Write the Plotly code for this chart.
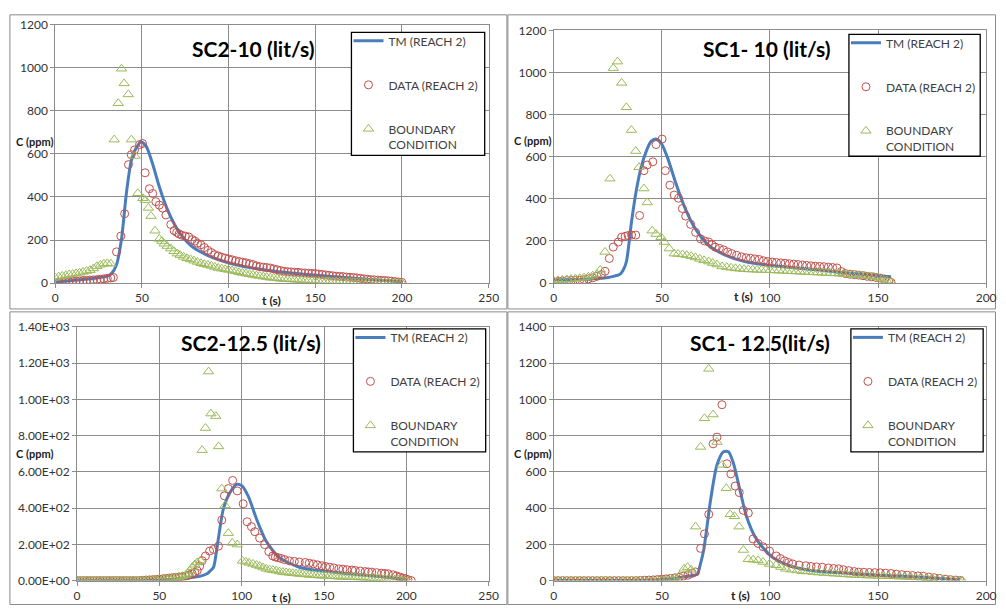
import plotly.graph_objects as go

W, H = 1006, 612
FONT = "Lato"
BLUE = "#4A7EBB"
RED = "#C0504D"
GREEN = "#9BBB59"
GRID = "#8C8C8C"

# ---------------- Panel 1: SC2-10 ----------------
p1_tm_t = [0, 10, 20, 30, 32.5, 35.3, 38.2, 41, 43.8, 46.7, 49.5, 52.4, 56.2, 60, 64.7, 70.4, 78, 87.5,
           100.8, 112, 125.5, 140, 150, 165, 180, 190, 200]
p1_tm_c = [5, 12, 20, 32, 45, 85, 205, 417, 567, 628, 655, 636, 552, 447, 341, 250, 175, 130,
           92, 72, 56, 43, 36, 27, 18, 12, 6]
p1_data_t = [0, 2, 4, 6, 8, 10, 12, 14, 16, 18, 20, 22, 24, 26, 28, 30, 32, 33.5, 35.3, 37.8, 40, 42.2, 43.8,
             45.7, 48.6, 50.3, 51.8, 54.3, 56.2, 58, 60, 61.9, 63.8, 66.6, 68.5, 70, 71.4, 73, 75, 77, 79,
             80.5, 82, 84, 86, 88, 90, 92, 94, 96, 98, 100, 102, 104, 106, 108, 110, 112, 114, 116, 118,
             120, 122, 124, 126, 128, 130, 132, 134, 136, 138, 140, 142, 144, 146, 148, 150, 152, 154, 156,
             158, 160, 162, 164, 166, 168, 170, 172, 174, 176, 178, 180, 182, 184, 186, 188, 190, 192, 194,
             196, 198, 200]
p1_data_c = [2, 3, 4, 5, 6, 8, 9, 10, 12, 13, 14, 15, 16, 18, 20, 22, 24, 26, 145, 218, 322, 550, 596,
             618, 643, 648, 512, 438, 416, 378, 362, 348, 316, 272, 244, 235, 228, 222, 218, 214, 202,
             195, 185, 178, 165, 152, 142, 132, 126, 120, 116, 112, 108, 104, 100, 97, 94, 90, 86, 80, 76,
             74, 72, 70, 66, 62, 58, 55, 53, 52, 50, 50, 48, 47, 46, 45, 44, 42, 40, 38,
             36, 34, 32, 31, 30, 28, 27, 26, 24, 22, 20, 18, 16, 15, 14, 13, 12, 11, 9,
             7, 5, 3]
p1_bc_t = [0, 2, 4, 6, 8, 10, 12, 14, 16, 18, 20, 22, 24, 26, 28, 30, 32, 34, 36.3, 38.2, 39.7, 42.1,
           43.9, 46, 47.6, 50.5, 52, 53.7, 55.2, 57.5, 60, 61.5, 62.8, 64.5, 66.6, 68.5, 70.4, 72, 74, 76,
           78, 80, 82, 84, 86, 88, 90, 92, 94, 96, 98, 100, 102, 104, 106, 108, 110, 112, 114, 116, 118,
           120, 122, 124, 126, 128, 130, 132, 134, 136, 138, 140, 142, 144, 146, 148, 150, 152, 154, 156,
           158, 160, 162, 164, 166, 168, 170, 172, 174, 176, 178, 180, 182, 184, 186, 188, 190, 192, 194,
           196, 198, 200]
p1_bc_c = [25, 30, 33, 36, 40, 42, 45, 48, 52, 56, 60, 68, 78, 85, 90, 92, 90, 666, 835, 995, 927, 876,
           666, 590, 417, 394, 385, 349, 311, 243, 205, 195, 183, 172, 160, 148, 137, 130, 122, 115,
           110, 104, 98, 92, 88, 84, 80, 75, 70, 67, 64, 61, 58, 55, 50, 47, 44, 41, 38, 35, 33,
           30, 28, 25, 24, 22, 20, 19, 18, 17, 16, 15, 14, 13, 12, 11, 10, 9, 9, 8,
           8, 7, 7, 6, 6, 5, 5, 5, 4, 4, 4, 3, 3, 3, 2, 2, 2, 1, 1,
           1, 0, 0]

# ---------------- Panel 2: SC1-10 ----------------
p2_tm_t = [0, 5, 10, 15, 20, 25, 28, 30.6, 32, 33.6, 35.9, 38.2, 40.4, 42.8, 45, 47.3, 49.6, 52.6, 56.5,
           61, 65.6, 71.7, 79.3, 88.4, 100, 112, 125, 138, 150, 156]
p2_tm_c = [15, 16, 17, 18, 22, 27, 33, 42, 60, 102, 287, 442, 550, 627, 673, 684, 666, 596, 473,
           349, 256, 179, 133, 102, 84, 72, 60, 45, 35, 30]
p2_data_t = [0, 2, 4, 6, 8, 10, 12, 14, 16, 18, 20, 22, 23.7, 25.7, 27.5, 29.8, 31.4, 33, 34.4, 36, 37.9,
             39.7, 41.7, 43.2, 45.8, 47.3, 50.1, 51.6, 53.7, 55.7, 57.7, 59.5, 61, 63.3, 65.6, 67.9, 69.8,
             71.7, 73.2, 74.7, 76.6, 78.5, 80.4, 82.3, 84.6, 86.9, 89, 91, 93, 95, 97, 99, 101, 103, 105,
             107, 109, 111, 113, 115, 117, 119, 121, 123, 125, 127, 129, 131, 133, 135, 137, 139, 141, 143,
             145, 147, 149, 151, 153, 155, 156]
p2_data_c = [5, 8, 10, 12, 12, 13, 14, 16, 20, 25, 32, 40, 56, 117, 171, 195, 218, 222, 226, 228, 228,
             321, 534, 561, 576, 658, 684, 534, 465, 418, 403, 354, 318, 279, 241, 210, 200,
             195, 182, 171, 165, 158, 148, 140, 132, 125, 120, 118, 115, 112, 106, 102, 100, 98, 96,
             94, 92, 90, 88, 86, 84, 82, 80, 79, 78, 76, 74, 72, 55, 45, 42, 40, 38, 35,
             32, 30, 27, 24, 18, 8, 3]
p2_bc_t = [0, 2, 4, 6, 8, 10, 12, 14, 16, 18, 20, 21.5, 23.7, 26, 27.5, 29.5, 31.4, 33.6, 35.9, 37.9, 39.4,
           41.7, 43.2, 45.5, 47.3, 49.6, 51.1, 53.4, 55.7, 57.5, 59.5, 61.5, 63.5, 65.5, 67.5, 69.5, 71.7,
           73.5, 75.5, 77.8, 80, 82, 84, 86, 88, 90, 92, 94, 96, 98, 100, 102, 104, 106, 108, 110, 112,
           114, 116, 118, 120, 122, 124, 126, 128, 130, 132, 134, 136, 138, 140, 142, 144, 146, 148, 150,
           152, 154, 156]
p2_bc_c = [10, 13, 15, 17, 19, 21, 23, 26, 30, 35, 42, 63, 148, 496, 1021, 1052, 951, 835, 727, 627, 550,
           449, 383, 249, 233, 218, 195, 164, 140, 138, 136, 133, 128, 122, 115, 108, 102,
           95, 88, 79, 76, 73, 70, 68, 66, 65, 64, 63, 62, 62, 61, 60, 59, 58, 57, 56, 55,
           54, 53, 52, 51, 50, 49, 48, 47, 46, 45, 43, 41, 40, 38, 36, 34, 32, 30, 26,
           20, 12, 5]

# ---------------- Panel 3: SC2-12.5 ----------------
p3_tm_t = [0, 20, 40, 50, 55, 60, 65, 70, 75, 78.9, 80.5, 82.9, 84.5, 85.9, 88.9, 92.9, 96.9, 99.9, 103.9,
           108.9, 114.9, 122.9, 134.9, 145, 155, 165, 175, 188, 200]
p3_tm_c = [0, 0, 1, 3, 5, 8, 12, 18, 25, 38, 50, 74, 150, 235, 397, 486, 531, 525, 468,
           343, 217, 127, 74, 57, 47, 38, 29, 18, 5]
p3_data_t = [0, 2, 4, 6, 8, 10, 12, 14, 16, 18, 20, 22, 24, 26, 28, 30, 32, 34, 36, 38, 40, 42, 44, 46, 48,
             50, 52, 54, 56, 58, 60, 62, 64, 66, 68, 70, 71.5, 73, 74.5, 76, 78, 80.5, 82.9, 85.9, 87.9,
             89.5, 91.9, 94.5, 97.3, 100.9, 103.3, 105.9, 108, 110.9, 113.9, 116.5, 118.9, 120.5, 122, 124,
             126, 129, 132, 135, 138.6, 141, 143.5, 146, 148.8, 151, 153.5, 156, 159, 161.5, 164, 167, 169,
             172, 175, 177, 179, 182, 185, 187, 189, 192, 194, 196, 198, 199.5, 201, 203]
p3_data_c = [0, 0, 0, 0, 0, 0, 0, 0, 0, 0, 0, 0, 0, 0, 0, 0, 0, 0, 0, 0, 2, 3, 4, 5, 6,
             8, 10, 12, 14, 16, 18, 20, 22, 25, 30, 38, 45, 55, 80, 110, 136, 163, 172, 190, 334,
             468, 508, 553, 495, 424, 325, 298, 270, 235, 199, 160, 136, 130, 127, 122,
             116, 109, 106, 103, 100, 96, 92, 87, 82, 78, 74, 70, 65, 63, 60, 58, 56,
             53, 50, 48, 47, 44, 41, 39, 38, 32, 26, 20, 14, 10, 5, 0]
p3_bc_t = [0, 2, 4, 6, 8, 10, 12, 14, 16, 18, 20, 22, 24, 26, 28, 30, 32, 34, 36, 38, 40, 42, 44, 46, 48,
           50, 52, 54, 56, 58, 60, 62, 64, 66, 67, 68.5, 70, 71.5, 73, 75, 76, 78, 79.9, 81.3, 84.3, 86,
           87.9, 89.9, 91.9, 94.3, 97.3, 100.5, 102.5, 104.5, 106.9, 109, 111, 113, 115, 117, 119, 121,
           123, 125, 127, 129, 131, 133, 135, 137, 139, 141, 143, 145, 147, 149, 151, 153, 155, 157, 159,
           161, 163, 165, 167, 169, 171, 173, 175, 177, 179, 181, 183, 185, 187, 189, 191, 193, 195, 197,
           199, 201]
p3_bc_c = [0, 0, 0, 0, 0, 0, 0, 0, 0, 0, 0, 0, 0, 0, 0, 0, 0, 0, 0, 0, 0, 1, 2, 3, 4,
           6, 8, 10, 12, 14, 17, 20, 24, 30, 38, 55, 74, 88, 100, 110, 720, 842, 1154, 922, 908, 741,
           508, 415, 262, 208, 199, 109, 104, 98, 92, 86, 80, 72, 65, 61, 58, 55,
           50, 47, 45, 43, 41, 39, 37, 36, 34, 32, 31, 29, 28, 27, 26, 25, 24, 23, 22,
           21, 20, 20, 19, 18, 17, 16, 15, 14, 13, 12, 11, 10, 9, 8, 7, 6, 5, 3,
           1, 0]

# ---------------- Panel 4: SC1-12.5 ----------------
p4_tm_t = [0, 20, 40, 50, 55, 60, 64, 66.4, 67.8, 69.4, 72.5, 75.5, 78.5, 80.8, 83.1, 86.2, 89.2, 93, 96.8,
           101.4, 109, 119.6, 130, 140, 150, 160, 170, 180, 188]
p4_tm_c = [0, 0, 1, 5, 10, 20, 28, 35, 90, 172, 442, 639, 711, 711, 648, 495, 352, 244, 181,
           127, 82, 55, 45, 38, 30, 25, 18, 10, 5]
p4_data_t = [0, 2, 4, 6, 8, 10, 12, 14, 16, 18, 20, 22, 24, 26, 28, 30, 32, 34, 36, 38, 40, 42, 44, 46, 48,
             50, 52, 54, 56, 58, 60, 62, 64, 65.5, 67.9, 69.7, 71.7, 73.7, 75.5, 77.8, 80.1, 81.9, 83.9,
             85.8, 87.7, 90, 92.2, 94.5, 96.8, 99.8, 102.9, 104.8, 106.7, 108.6, 110.5, 113.5, 116.6, 119,
             121.5, 124.2, 127, 129.5, 131.8, 134, 136.5, 139, 141, 143.5, 146, 148.5, 151, 153.5, 156,
             158.5, 161, 163.5, 166, 168.5, 171, 173.5, 176, 178.5, 181, 183.5, 186, 188]
p4_data_c = [0, 0, 0, 0, 0, 0, 0, 0, 0, 0, 0, 0, 0, 0, 0, 0, 0, 0, 0, 0, 1, 2, 3, 4, 6,
             8, 10, 12, 15, 18, 25, 30, 40, 48, 178, 258, 366, 755, 792, 971, 645, 589, 522,
             486, 388, 373, 230, 205, 187, 163, 136, 122, 109, 100, 92, 86, 82, 78,
             76, 74, 70, 67, 65, 60, 55, 50, 47, 46, 45, 44, 43, 41, 39,
             36, 33, 30, 28, 26, 24, 20, 16, 12, 8, 5, 3, 1]
p4_bc_t = [0, 2, 4, 6, 8, 10, 12, 14, 16, 18, 20, 22, 24, 26, 28, 30, 32, 34, 36, 38, 40, 42, 44, 46, 48,
           50, 52, 54, 56, 58, 60.3, 61.9, 63.5, 65.6, 67.9, 69.7, 71.7, 73.7, 75.5, 77.8, 79.8, 81.6,
           83.6, 85.7, 87.7, 90, 92.2, 94.5, 96.8, 99.8, 102.8, 105, 107.3, 110, 112.5, 115, 117.5, 120,
           122.5, 125, 127.5, 130, 132.5, 135, 137.5, 140, 142.5, 145, 147.5, 150, 152.5, 155, 157.5,
           160, 162.5, 165, 167.5, 170, 172.5, 175, 177.5, 180, 182.5, 185, 187.5, 189]
p4_bc_c = [0, 0, 0, 0, 0, 0, 0, 0, 0, 0, 0, 0, 0, 0, 0, 0, 0, 0, 0, 0, 0, 0, 0, 0, 1,
           3, 6, 10, 15, 25, 65, 74, 60, 298, 738, 896, 1169, 917, 765, 639, 510, 366,
           355, 298, 169, 118, 115, 112, 103, 92, 85, 75, 65, 60, 56, 52, 50, 47,
           44, 42, 40, 38, 36, 34, 32, 30, 29, 28, 27, 26, 25, 24, 23,
           22, 21, 20, 18, 16, 14, 12, 9, 6, 4, 2, 1, 0]

titles = ["SC2-10 (lit/s)", "SC1- 10 (lit/s)", "SC2-12.5 (lit/s)", "SC1- 12.5(lit/s)"]
x_max = [250, 200, 250, 200]
y_max = [1200, 1200, 1400, 1400]
y_tickvals = [[0, 200, 400, 600, 800, 1000, 1200],
              [0, 200, 400, 600, 800, 1000, 1200],
              [0, 200, 400, 600, 800, 1000, 1200, 1400],
              [0, 200, 400, 600, 800, 1000, 1200, 1400]]
y_ticktext = [["0", "200", "400", "600", "800", "1000", "1200"],
              ["0", "200", "400", "600", "800", "1000", "1200"],
              ["0.00E+00", "2.00E+02", "4.00E+02", "6.00E+02", "8.00E+02", "1.00E+03", "1.20E+03", "1.40E+03"],
              ["0", "200", "400", "600", "800", "1000", "1200", "1400"]]
legend_names = ["TM (REACH 2)", "DATA (REACH 2)", "BOUNDARY<br>CONDITION"]

series = [
    (p1_tm_t, p1_tm_c, p1_data_t, p1_data_c, p1_bc_t, p1_bc_c),
    (p2_tm_t, p2_tm_c, p2_data_t, p2_data_c, p2_bc_t, p2_bc_c),
    (p3_tm_t, p3_tm_c, p3_data_t, p3_data_c, p3_bc_t, p3_bc_c),
    (p4_tm_t, p4_tm_c, p4_data_t, p4_data_c, p4_bc_t, p4_bc_c),
]

# layout geometry in pixels
plot_px = [(53, 492, 17, 282), (558, 996, 23, 282), (75, 492, 327, 587), (558, 996, 327, 587)]
panel_px = [(7, 510.5, 7, 308.5), (511.5, 1005.5, 7, 308.5), (7, 510.5, 311.5, 611.5), (511.5, 1005.5, 311.5, 611.5)]
title_px = [(254, 42), (774, 42), (251, 343), (767, 343)]
clabel_px = [(32, 137), (536, 136), (32, 457), (536, 457)]
tlabel_px = [(272, 300), (750, 296), (282, 604), (747, 602)]
legbox_px = [(353, 488, 25, 151), (857, 990, 27, 152), (355, 489, 329, 455), (859, 993, 329, 455)]

def px_x(x):
    return x / W

def px_y(y):
    return 1 - y / H

fig = go.Figure()
layout = dict(
    width=W, height=H, autosize=False,
    margin=dict(l=0, r=0, t=0, b=0),
    paper_bgcolor="white", plot_bgcolor="white",
    font=dict(family=FONT, size=12, color="#404040"),
    shapes=[], annotations=[],
)

for i in range(4):
    tm_t, tm_c, d_t, d_c, b_t, b_c = series[i]
    xa = "x" if i == 0 else f"x{i+1}"
    ya = "y" if i == 0 else f"y{i+1}"
    lg = "legend" if i == 0 else f"legend{i+1}"
    fig.add_trace(go.Scatter(x=tm_t, y=tm_c, mode="lines", name=legend_names[0],
                             line=dict(color=BLUE, width=3, shape="spline", smoothing=0.7),
                             xaxis=xa, yaxis=ya, legend=lg, legendgroup=f"tm{i}"))
    fig.add_trace(go.Scatter(x=d_t, y=d_c, mode="markers", name=legend_names[1],
                             marker=dict(symbol="circle-open", size=8, color=RED, line=dict(width=1)),
                             xaxis=xa, yaxis=ya, legend=lg, legendgroup=f"d{i}"))
    fig.add_trace(go.Scatter(x=b_t, y=b_c, mode="markers", name=legend_names[2],
                             marker=dict(symbol="triangle-up-open", size=9, color=GREEN, line=dict(width=1)),
                             xaxis=xa, yaxis=ya, legend=lg, legendgroup=f"b{i}"))

    x0, x1, yt, yb = plot_px[i]
    ax_common = dict(showgrid=True, gridcolor=GRID, gridwidth=1, showline=True, linecolor=GRID,
                     linewidth=1, mirror=True, ticks="outside", ticklen=4, tickcolor=GRID,
                     zeroline=False, tickfont=dict(family=FONT, size=12, color="#333333"))
    xkey = "xaxis" if i == 0 else f"xaxis{i+1}"
    ykey = "yaxis" if i == 0 else f"yaxis{i+1}"
    layout[xkey] = dict(domain=[px_x(x0), px_x(x1)], range=[0, x_max[i]], dtick=50,
                        anchor=ya, **ax_common)
    layout[ykey] = dict(domain=[px_y(yb), px_y(yt)], range=[0, y_max[i]],
                        tickvals=y_tickvals[i], ticktext=y_ticktext[i], anchor=xa, **ax_common)

    bx0, bx1, by0, by1 = legbox_px[i]
    layout["shapes"].append(dict(type="rect", xref="paper", yref="paper",
                                 x0=px_x(bx0), x1=px_x(bx1), y0=px_y(by1), y1=px_y(by0),
                                 fillcolor="white", line=dict(color="black", width=1.3), layer="above"))
    layout[lg] = dict(x=px_x(bx0 - 3), y=px_y(by0 - 6), xanchor="left", yanchor="top",
                      borderwidth=0, bgcolor="rgba(0,0,0,0)",
                      font=dict(family=FONT, size=12, color="#404040"),
                      tracegroupgap=25, valign="top", itemwidth=30)

    px0, px1, py0, py1 = panel_px[i]
    layout["shapes"].append(dict(type="rect", xref="paper", yref="paper",
                                 x0=px_x(px0), x1=px_x(px1), y0=px_y(py1), y1=px_y(py0),
                                 line=dict(color="#8A8A8A", width=1), layer="below"))

    tx, ty = title_px[i]
    layout["annotations"].append(dict(text=f"<b>{titles[i]}</b>", x=px_x(tx), y=px_y(ty),
                                      xref="paper", yref="paper", showarrow=False,
                                      xanchor="center", yanchor="middle",
                                      font=dict(family=FONT, size=21, color="black")))
    cx, cy = clabel_px[i]
    layout["annotations"].append(dict(text="<b>C (ppm)</b>", x=px_x(cx), y=px_y(cy),
                                      xref="paper", yref="paper", showarrow=False,
                                      xanchor="center", yanchor="middle",
                                      font=dict(family=FONT, size=11, color="#222222")))
    sx, sy = tlabel_px[i]
    layout["annotations"].append(dict(text="<b>t (s)</b>", x=px_x(sx), y=px_y(sy),
                                      xref="paper", yref="paper", showarrow=False,
                                      xanchor="center", yanchor="middle",
                                      font=dict(family=FONT, size=12, color="#222222")))

fig.update_layout(**layout)
fig.write_html("out.html")
